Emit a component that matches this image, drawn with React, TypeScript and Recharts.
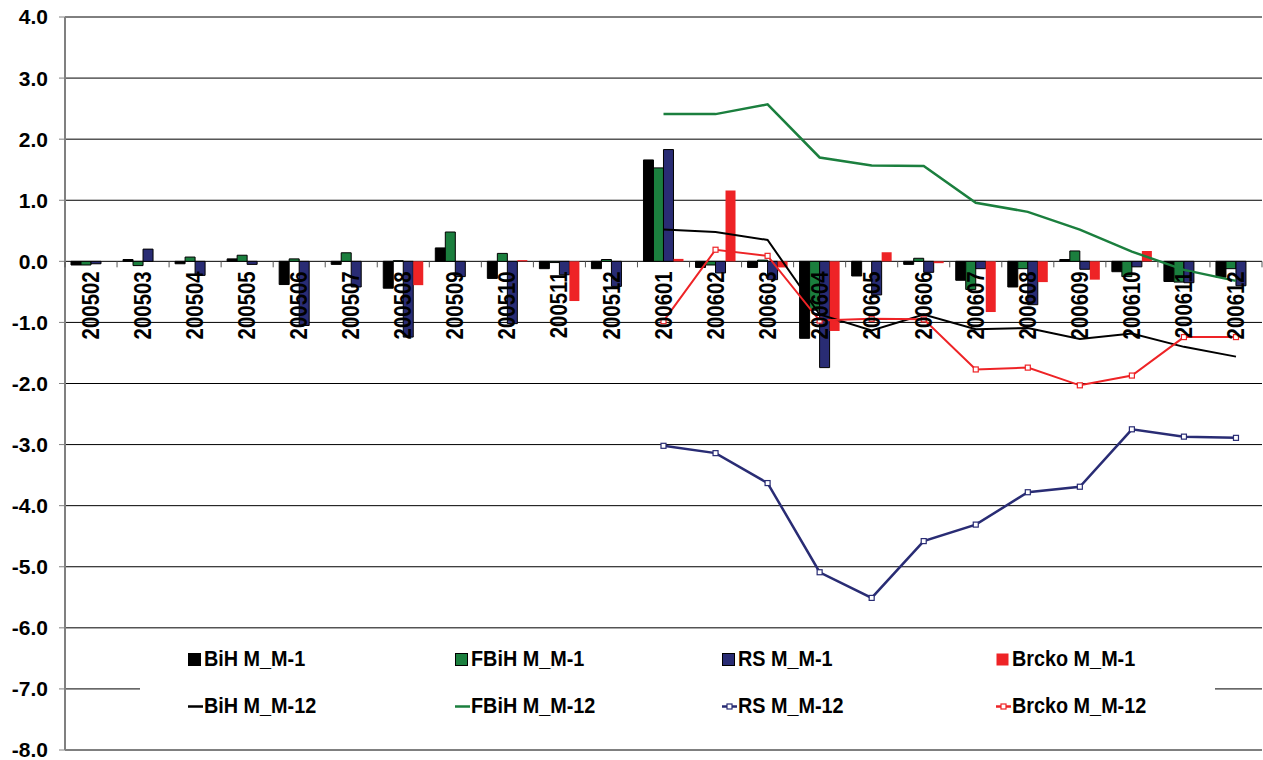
import React from "react";
import {
  ComposedChart,
  Bar,
  Line,
  XAxis,
  YAxis,
  CartesianGrid,
  Legend,
} from "recharts";

// monthly change, m/m-1 (bars) and m/m-12 (lines, 2006 only)
const MONTHS = [
  "200502", "200503", "200504", "200505", "200506", "200507", "200508", "200509",
  "200510", "200511", "200512", "200601", "200602", "200603", "200604", "200605",
  "200606", "200607", "200608", "200609", "200610", "200611", "200612",
];

const BIH_M1 = [-0.06, 0.03, -0.04, 0.04, -0.38, -0.05, -0.44, 0.22, -0.28, -0.12, -0.12, 1.66, -0.1, -0.1, -1.26, -0.24, -0.05, -0.31, -0.42, 0.03, -0.17, -0.33, -0.26];
const FBIH_M1 = [-0.06, -0.07, 0.07, 0.1, 0.04, 0.14, 0.01, 0.48, 0.13, -0.02, 0.03, 1.53, -0.06, 0.02, -0.8, 0, 0.05, -0.46, -0.12, 0.17, -0.25, -0.34, -0.12];
const RS_M1 = [-0.04, 0.2, -0.23, -0.05, -1.05, -0.42, -1.24, -0.25, -1.02, -0.22, -0.41, 1.83, -0.19, -0.3, -1.74, -0.55, -0.18, -0.12, -0.71, -0.13, -0.09, -0.35, -0.4];
const BRCKO_M1 = [0, 0, 0, 0, 0, 0, -0.39, 0, 0.02, -0.65, 0, 0.04, 1.16, -0.1, -1.14, 0.15, -0.03, -0.83, -0.34, -0.3, 0.17, 0, 0];

const BIH_M12 = [null, null, null, null, null, null, null, null, null, null, null, 0.52, 0.48, 0.35, -0.87, -1.13, -0.87, -1.11, -1.09, -1.27, -1.18, -1.4, -1.56];
const FBIH_M12 = [null, null, null, null, null, null, null, null, null, null, null, 2.41, 2.41, 2.57, 1.7, 1.57, 1.56, 0.96, 0.81, 0.52, 0.16, -0.14, -0.32];
const RS_M12 = [null, null, null, null, null, null, null, null, null, null, null, -3.02, -3.14, -3.63, -5.09, -5.51, -4.58, -4.31, -3.78, -3.69, -2.75, -2.87, -2.89];
const BRCKO_M12 = [null, null, null, null, null, null, null, null, null, null, null, -0.98, 0.19, 0.09, -0.97, -0.94, -0.95, -1.77, -1.74, -2.03, -1.87, -1.24, -1.24];

const Y_TICKS = [-8, -7, -6, -5, -4, -3, -2, -1, 0, 1, 2, 3, 4];

const data = MONTHS.map((month, i) => ({
  month,
  bihM1: BIH_M1[i],
  fbihM1: FBIH_M1[i],
  rsM1: RS_M1[i],
  brckoM1: BRCKO_M1[i],
  bihM12: BIH_M12[i],
  fbihM12: FBIH_M12[i],
  rsM12: RS_M12[i],
  brckoM12: BRCKO_M12[i],
}));

const BLACK = "#000000";
const GREEN = "#1b7f3e";
const NAVY = "#292c74";
const RED = "#ee2326";

const NARROW = "'Liberation Sans Narrow', 'Arial Narrow', 'Liberation Sans', Arial, sans-serif";
const SANS = "'Liberation Sans', Arial, sans-serif";

const W = 1263;
const H = 760;
const TOP = 17;
const BOTTOM = 10;
const PLOT_H = H - TOP - BOTTOM;
const ZERO_Y = TOP + (PLOT_H * 4) / 12;
const PLOT_LEFT = 65;
const CAT_W = (W - 1 - PLOT_LEFT) / MONTHS.length;

// category labels sit on the zero line, like Excel's crossing axis
function MonthTick(props: any) {
  const { x, payload, index } = props;
  const left = x - CAT_W / 2;
  return (
    <g>
      <line x1={left} x2={left} y1={ZERO_Y} y2={ZERO_Y + 6} stroke="#555" />
      {index === MONTHS.length - 1 && (
        <line x1={left + CAT_W} x2={left + CAT_W} y1={ZERO_Y} y2={ZERO_Y + 6} stroke="#555" />
      )}
      <text
        x={0}
        y={0}
        transform={`translate(${x}, ${ZERO_Y + 10}) rotate(-90) scale(0.85, 1)`}
        textAnchor="end"
        dominantBaseline="central"
        fontFamily={NARROW}
        fontWeight="bold"
        fontSize={24}
        fill="#000"
      >
        {payload.value}
      </text>
    </g>
  );
}

function SquareDot(props: any) {
  const { cx, cy, stroke, value } = props;
  if (value == null || cy == null || cx == null) return <g />;
  return <rect x={cx - 2.5} y={cy - 2.5} width={5} height={5} fill="#fff" stroke={stroke} strokeWidth={1.2} />;
}

const LEGEND_ORDER = [
  "BiH M_M-1", "FBiH M_M-1", "RS M_M-1", "Brcko M_M-1",
  "BiH M_M-12", "FBiH M_M-12", "RS M_M-12", "Brcko M_M-12",
];
const COL_X = [48, 315, 582, 856];

function LegendBox(props: any) {
  const items = [...(props.payload || [])].sort(
    (a: any, b: any) => LEGEND_ORDER.indexOf(a.value) - LEGEND_ORDER.indexOf(b.value)
  );
  return (
    <div style={{ position: "relative", width: 1075, height: 116, background: "#fff" }}>
      {items.map((it: any, i: number) => {
        const row = Math.floor(i / 4);
        const col = i % 4;
        const isBar = row === 0;
        const marker = it.value === "RS M_M-12" || it.value === "Brcko M_M-12";
        return (
          <div
            key={it.value}
            style={{
              position: "absolute",
              left: COL_X[col],
              top: row === 0 ? 14 : 61,
              display: "flex",
              alignItems: "center",
              fontFamily: NARROW,
              fontWeight: "bold",
              fontSize: 22,
              color: "#000",
              whiteSpace: "nowrap",
            }}
          >
            <svg width={15} height={16} style={{ marginRight: 1 }}>
              {isBar ? (
                <rect
                  x={0.5}
                  y={2.5}
                  width={12}
                  height={12}
                  fill={it.color}
                  stroke={it.value === "Brcko M_M-1" ? "none" : "#000"}
                />
              ) : (
                <g>
                  <line x1={0} x2={15} y1={8.5} y2={8.5} stroke={it.color} strokeWidth={2.5} />
                  {marker && (
                    <rect x={5} y={6} width={5} height={5} fill="#fff" stroke={it.color} strokeWidth={1.2} />
                  )}
                </g>
              )}
            </svg>
            <span style={{ display: "inline-block", transform: "scaleX(0.9)", transformOrigin: "left center" }}>
              {it.value}
            </span>
          </div>
        );
      })}
    </div>
  );
}

export default function App() {
  return (
    <div style={{ position: "absolute", left: 0, top: 0, width: W, height: H, background: "#fff" }}>
      <ComposedChart
        width={W}
        height={H}
        data={data}
        margin={{ top: TOP, right: 1, bottom: BOTTOM - 1, left: 8 }}
        barGap={0}
        barSize={10}
      >
        <CartesianGrid vertical={false} stroke="#000" strokeWidth={1} />
        <XAxis
          dataKey="month"
          height={1}
          axisLine={false}
          tickLine={false}
          interval={0}
          tick={<MonthTick />}
        />
        <YAxis
          width={57}
          domain={[-8, 4]}
          ticks={Y_TICKS}
          interval={0}
          allowDataOverflow
          tickFormatter={(v: number) => v.toFixed(1)}
          tick={{ fontFamily: SANS, fontWeight: "bold", fontSize: 21, fill: "#000" }}
          axisLine={{ stroke: "#808080", strokeWidth: 2 }}
          tickLine={{ stroke: "#808080" }}
          tickSize={6}
          tickMargin={11}
        />
        <Bar dataKey="bihM1" name="BiH M_M-1" fill={BLACK} stroke="#000" strokeWidth={1} isAnimationActive={false} />
        <Bar dataKey="fbihM1" name="FBiH M_M-1" fill={GREEN} stroke="#000" strokeWidth={1} isAnimationActive={false} />
        <Bar dataKey="rsM1" name="RS M_M-1" fill={NAVY} stroke="#000" strokeWidth={1} isAnimationActive={false} />
        <Bar dataKey="brckoM1" name="Brcko M_M-1" fill={RED} isAnimationActive={false} />
        <Line dataKey="bihM12" name="BiH M_M-12" stroke={BLACK} strokeWidth={2} dot={false} isAnimationActive={false} />
        <Line dataKey="fbihM12" name="FBiH M_M-12" stroke={GREEN} strokeWidth={2.5} dot={false} isAnimationActive={false} />
        <Line dataKey="rsM12" name="RS M_M-12" stroke={NAVY} strokeWidth={2.5} dot={<SquareDot />} isAnimationActive={false} />
        <Line dataKey="brckoM12" name="Brcko M_M-12" stroke={RED} strokeWidth={2} dot={<SquareDot />} isAnimationActive={false} />
        <Legend
          layout="horizontal"
          verticalAlign="middle"
          align="center"
          content={<LegendBox />}
          wrapperStyle={{ position: "absolute", left: 140, top: 632, width: 1075, height: 116 }}
        />
      </ComposedChart>
    </div>
  );
}
